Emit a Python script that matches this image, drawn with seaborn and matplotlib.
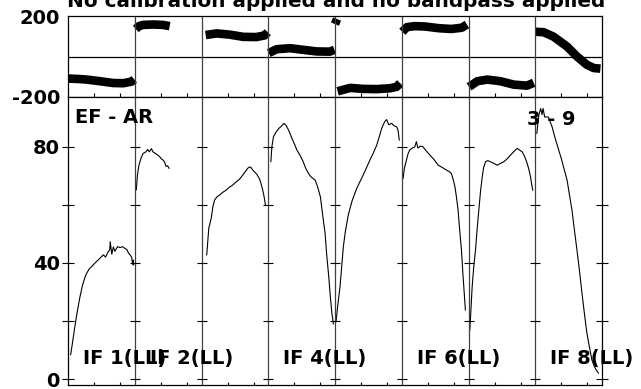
import numpy as np
import pandas as pd
import seaborn as sns
import matplotlib
matplotlib.use("Agg")
import matplotlib.pyplot as plt

# channels per IF and the number of IFs
nchan = 128
n_if = 8

# ---- phase (deg): channel, value ----
ph_ch_if1 = [1, 20, 36, 61, 87, 106, 122, 127]
ph_if1 = [-109, -111, -114, -122, -131, -132, -124, -113]
ph_ch_if2 = [2, 8, 16, 35, 54, 67]
ph_if2 = [136, 150, 156, 158, 156, 150]
ph_ch_if3 = [8, 29, 54, 80, 105, 121, 127]
ph_if3 = [106, 114, 108, 97, 96, 104, 120]
ph_ch_if4 = [1, 16, 42, 67, 93, 118, 127]
ph_if4 = [17, 36, 41, 33, 25, 24, 33]
ph_ch_if5a = [0, 4]
ph_if5a = [160, 185]
ph_ch_if5 = [5, 29, 54, 80, 105, 118, 125]
ph_if5 = [-172, -155, -160, -161, -157, -150, -132]
ph_ch_if6 = [1, 10, 25, 45, 70, 95, 115, 125]
ph_if6 = [122, 145, 150, 148, 140, 136, 142, 158]
ph_ch_if7 = [1, 17, 36, 61, 87, 112, 125]
ph_if7 = [-150, -122, -114, -122, -139, -144, -130]
ph_ch_if8 = [1, 16, 35, 61, 80, 99, 112, 125]
ph_if8 = [122, 120, 98, 49, 0, -41, -57, -60]

# ---- amplitude: channel, value ----
amp_ch_if1 = [5, 9, 13, 18, 23, 28, 34, 40, 45, 52, 61, 68, 72, 77, 80, 81, 84, 87, 90, 95, 100, 105, 109, 113, 116, 119, 122, 124, 125, 126]
amp_if1 = [8.4, 13, 18, 23.5, 28.4, 32.5, 35.8, 37.8, 38.7, 40, 41.6, 42.8, 42, 43.8, 44.5, 47.3, 43, 45.5, 44, 45.6, 45.3, 45.6, 45, 44.6, 43.4, 42.8, 42, 39.5, 41, 39.3]
amp_ch_if2 = [3, 5, 8, 12, 16, 20, 25, 28, 32, 35, 40, 44, 48, 51, 54, 57, 60, 63, 66]
amp_if2 = [65.1, 70, 73.6, 76, 77.7, 78, 79, 78.2, 79.3, 78.2, 77.6, 77.1, 76.5, 75.8, 75.4, 74.8, 73.2, 73.4, 72.5]
amp_ch_if3 = [10, 14, 18.6, 22, 25, 30, 34.5, 40, 47, 53, 60, 66, 73, 79, 86, 89, 92, 95, 98, 101.6, 106, 111, 114, 117.5, 120, 122.7]
amp_if3 = [42.7, 52, 55.3, 59.5, 61.6, 62.8, 63.3, 64.2, 65, 66, 66.8, 67.8, 68.8, 70.2, 71.9, 72.6, 73, 72.8, 72, 71.3, 70.5, 69, 67.4, 65, 62.8, 59.9]
amp_ch_if4 = [5, 7, 10, 15, 20, 25, 30, 34, 39, 45, 50, 55, 61, 67, 72, 77, 82, 90, 95, 100, 104, 109, 112, 116, 119, 122, 125]
amp_if4 = [74.8, 80, 83.4, 85, 86.2, 87, 88, 87.3, 85.7, 83, 81, 78.8, 77, 74.8, 72.5, 70.8, 69.6, 68.5, 66, 62.7, 57, 50.2, 43, 35.3, 28.5, 22.7, 19.0]
amp_ch_if5 = [2, 5, 9.6, 13, 16, 20, 25.5, 33, 41.6, 48, 54, 61, 67, 74, 80, 85, 89.6, 95, 99, 103, 108.7, 113, 118.3, 121, 123.3]
amp_if5 = [19.8, 25, 31.8, 39, 45.6, 51, 56.5, 61.5, 65.6, 68, 70.2, 73, 75.4, 78, 80.5, 83.5, 86.3, 88.5, 89.3, 87.5, 88, 87.2, 86.8, 85.5, 82.2]
amp_ch_if6 = [2.5, 5, 9, 12, 15, 20, 25, 28, 31, 36, 41, 47, 54, 62, 70, 78, 86, 91, 95, 99, 102, 105, 108, 111, 114.5, 117, 119, 122]
amp_if6 = [69, 72.5, 75.4, 77.5, 78.8, 79.5, 79.9, 81.7, 79.5, 80.2, 79.9, 78.5, 77.1, 75.5, 73.6, 72.8, 71.9, 71.4, 70.8, 68.5, 66.2, 62.5, 58.2, 51.5, 44.4, 37, 31.8, 23.8]
amp_ch_if7 = [2.5, 5, 7, 10, 13.4, 16.5, 19.8, 23, 26.3, 29, 32.6, 37, 42, 48, 55, 61, 67.7, 74, 80.5, 87, 93.4, 98, 103, 108, 112.6, 116, 118.9, 121, 123.3]
amp_if7 = [16.9, 25, 31.8, 38.5, 44.4, 51.5, 58.2, 64.5, 69.6, 72.8, 74.8, 75.2, 74.8, 74.3, 73.6, 74.2, 74.8, 75.8, 77.1, 78.3, 79.4, 78.8, 78.2, 76.5, 74.2, 72, 69.6, 67.2, 65]
amp_ch_if8 = [3, 5, 7, 10.5, 13, 15, 18, 25, 32, 38, 44, 50, 55, 61, 66, 70.4, 75, 80, 85, 89.6, 94, 99.1, 104, 108.7, 113, 117, 121.4]
amp_if8 = [84.5, 88, 91, 93.1, 91, 93.1, 90.2, 90.2, 87, 83, 79.4, 75.9, 72.5, 68.5, 63, 58.2, 51.5, 44.4, 37, 29.6, 23, 15.8, 11, 6.6, 4.5, 3.2, 2.1]

if_labels = ["IF 1(LL)", "IF 2(LL)", "IF 4(LL)", "IF 6(LL)", "IF 8(LL)"]
if_label_idx = [0, 1, 3, 5, 7]
title = "No calibration applied and no bandpass applied"
baseline_name = "EF - AR"
time_label = "3 - 9"

amp_ticks = [0, 20, 40, 60, 80]
amp_ticklabels = ["0", "", "40", "", "80"]

ph_segments = [(ph_ch_if1, ph_if1, 0), (ph_ch_if2, ph_if2, 1), (ph_ch_if3, ph_if3, 2),
               (ph_ch_if4, ph_if4, 3), (ph_ch_if5a, ph_if5a, 4), (ph_ch_if5, ph_if5, 4),
               (ph_ch_if6, ph_if6, 5), (ph_ch_if7, ph_if7, 6), (ph_ch_if8, ph_if8, 7)]
ph_df = pd.concat([pd.DataFrame({"x": np.array(c) + i * nchan, "phase": v, "seg": s})
                   for s, (c, v, i) in enumerate(ph_segments)], ignore_index=True)

amp_segments = [(amp_ch_if1, amp_if1), (amp_ch_if2, amp_if2), (amp_ch_if3, amp_if3),
                (amp_ch_if4, amp_if4), (amp_ch_if5, amp_if5), (amp_ch_if6, amp_if6),
                (amp_ch_if7, amp_if7), (amp_ch_if8, amp_if8)]
amp_df = pd.concat([pd.DataFrame({"x": np.array(c) + i * nchan, "amp": v, "seg": i})
                    for i, (c, v) in enumerate(amp_segments)], ignore_index=True)

sns.set_theme(style="white")
plt.rcParams["font.family"] = ["DejaVu Sans"]
plt.rcParams["font.weight"] = "bold"
plt.rcParams["text.color"] = "black"
plt.rcParams["xtick.color"] = "black"
plt.rcParams["ytick.color"] = "black"

fig = plt.figure(figsize=(6.41, 3.89), dpi=100)
ax1 = fig.add_axes([68 / 641, 1 - 97 / 389, 534 / 641, 81 / 389])
ax2 = fig.add_axes([68 / 641, 1 - 385 / 389, 534 / 641, 288 / 389])

bounds = [i * nchan for i in range(n_if + 1)]
minor = [i * nchan + c for i in range(n_if) for c in (50, 100)]

# phase panel
sns.lineplot(data=ph_df, x="x", y="phase", units="seg", estimator=None, sort=False,
             color="black", lw=6.2, solid_capstyle="butt", ax=ax1, legend=False)
ax1.axhline(0, color="black", lw=0.9)
ax1.set_xlim(0, n_if * nchan)
ax1.set_ylim(-200, 200)
ax1.set_yticks([-200, 200])
ax1.set_yticklabels(["-200", "200"])
ax1.tick_params(axis="y", length=0, pad=5.5, labelsize=14, labelcolor="black")
ax1.set_xticks(minor)
ax1.set_xticklabels([])
ax1.tick_params(axis="x", direction="in", length=3, width=0.8, bottom=True)

# amplitude panel
sns.lineplot(data=amp_df, x="x", y="amp", units="seg", estimator=None, sort=False,
             color="black", lw=0.8, ax=ax2, legend=False)
ax2.set_xlim(0, n_if * nchan)
ax2.set_ylim(-1.96, 97.06)
ax2.set_yticks(amp_ticks)
ax2.set_yticklabels(amp_ticklabels)
ax2.tick_params(axis="y", direction="inout", length=8, width=0.8, left=True, right=True,
                pad=1.8, labelsize=14, labelcolor="black")
ax2.set_xticks(minor)
ax2.set_xticklabels([])
ax2.tick_params(axis="x", direction="in", length=2.5, width=0.8, bottom=True)

for ax in (ax1, ax2):
    ax.set_xlabel("")
    ax.set_ylabel("")
    for sp in ax.spines.values():
        sp.set_color("black")
        sp.set_linewidth(0.9)
    for b in bounds[1:-1]:
        ax.axvline(b, color="#404040", lw=0.9)

# crossing tick marks on the inner IF boundaries
for b in bounds[1:-1]:
    ax2.plot([b] * len(amp_ticks), amp_ticks, ls="none", marker="_", ms=7.5,
             mew=0.8, color="black")

for i, lab in zip(if_label_idx, if_labels):
    ax2.text(i * nchan + 29, 5.2, lab, fontsize=14, fontweight="bold", va="baseline",
             color="black")
ax2.text(13.4, 88.0, baseline_name, fontsize=14, fontweight="bold", va="baseline",
         color="black")
ax2.text(880.6, 87.5, time_label, fontsize=14, fontweight="bold", va="baseline",
         color="black")

fig.text(336.5 / 641, 1 - 7 / 389, title, ha="center", va="baseline",
         fontsize=14.4, fontweight="bold", color="black")

fig.savefig("out.png", dpi=100)
